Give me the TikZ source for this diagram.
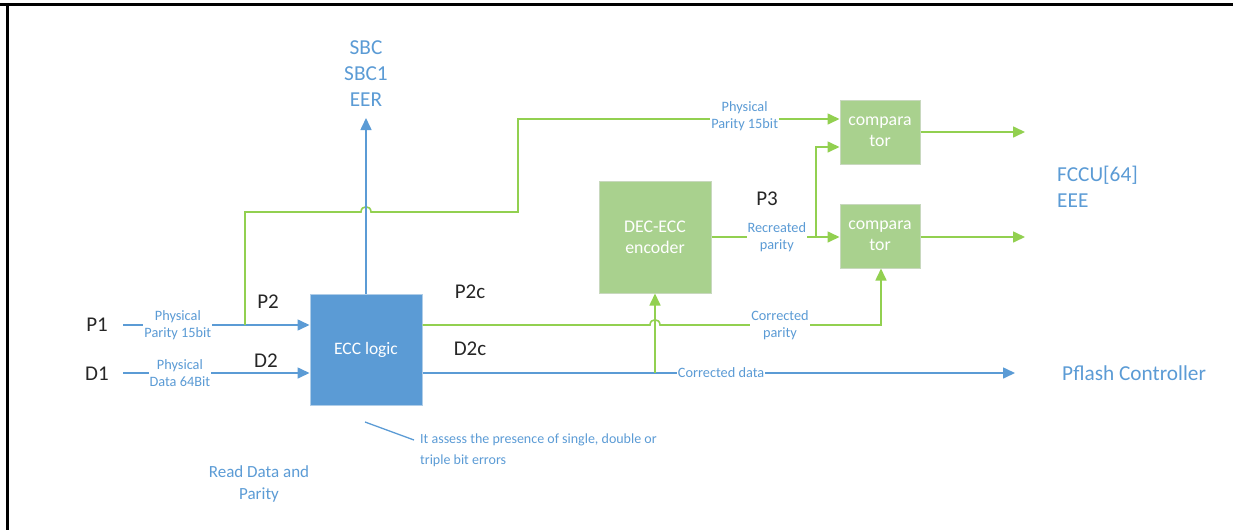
\documentclass[tikz,border=0pt]{standalone}
\usepackage{fontspec}
\setmainfont{Carlito}
\usetikzlibrary{arrows.meta}
\definecolor{eccblue}{RGB}{91,155,213}
\definecolor{wire}{RGB}{146,208,80}
\definecolor{boxgreen}{RGB}{169,209,142}
\definecolor{ink}{RGB}{38,38,38}
\definecolor{eccedge}{RGB}{175,205,232}
\definecolor{grnedge}{RGB}{200,216,190}

\begin{document}
\begin{tikzpicture}[x=1pt,y=-1pt,
  bwire/.style={draw=eccblue,line width=1.6pt},
  gwire/.style={draw=wire,line width=1.6pt},
  tip/.style={-{Triangle[length=12pt,width=11pt]}},
  eccbox/.style={fill=eccblue,draw=eccedge,line width=1pt,minimum width=112pt,
    minimum height=111pt,text=white,font=\fontsize{17.5}{21}\selectfont,align=center,inner sep=0pt},
  encbox/.style={fill=boxgreen,draw=grnedge,line width=1pt,minimum width=112pt,
    minimum height=112pt,text=white,font=\fontsize{17.8}{21}\selectfont,align=center,inner sep=0pt},
  cmpbox/.style={encbox,minimum width=80pt,minimum height=64pt},
  tag/.style={text=ink,font=\fontsize{21}{26}\selectfont,inner sep=0pt},
  bignote/.style={text=eccblue,font=\fontsize{21.3}{26}\selectfont,inner sep=0pt},
  midnote/.style={text=eccblue,font=\fontsize{17}{22}\selectfont,align=center,inner sep=0pt},
  wlabel/.style={text=eccblue,fill=white,font=\fontsize{14.3}{16.5}\selectfont,align=center,inner sep=1pt},
  smallnote/.style={text=eccblue,font=\fontsize{14}{21}\selectfont,align=left,inner sep=0pt},
]
\useasboundingbox (0,0) rectangle (1233,530);

% frame
\draw[line width=3pt] (0,4) -- (1233,4);
\draw[line width=3pt] (7,3) -- (7,530);

% blocks
\node[eccbox] (ecc) at (366,349.5) {ECC logic};
\node[encbox] (enc) at (655,237) {DEC-ECC\\encoder};
\node[cmpbox] (cmp1) at (880,132) {compara\\tor};
\node[cmpbox] (cmp2) at (880,236) {compara\\tor};

% signal names
\node[tag] (p1) at (97,325) {P1};
\node[tag] (d1) at (97,374) {D1};
\node[tag] (p2) at (268,302) {P2};
\node[tag] (d2) at (266,361) {D2};
\node[tag] (p2c) at (470,292) {P2c};
\node[tag] (d2c) at (470,349) {D2c};
\node[tag] (p3) at (767,199) {P3};

% destinations
\node[bignote,align=center] (sbc) at (366,74) {SBC\\SBC1\\EER};
\node[bignote,align=left,anchor=west] (fccu) at (1057,187) {FCCU[64]\\EEE};
\node[bignote,anchor=west] (pflash) at (1062,373) {Pflash Controller};
\node[midnote] (rdp) at (259,484) {Read Data and\\Parity};
\node[smallnote,anchor=west] (anno) at (420,450.5) {It assess the presence of single, double or\\triple bit errors};

% junction points
\coordinate (p1in) at (123,325);
\coordinate (d1in) at (123,373);
\coordinate (tapP) at (245,325);
\coordinate (tapD) at (655,373);
\coordinate (tapR) at (816,237);
\coordinate (sbcend) at (366,118);
\coordinate (pfend) at (1015,373);
\coordinate (o1) at (1025,132);
\coordinate (o2) at (1025,237);
\coordinate (ptr) at (365,422);
\coordinate (ptrend) at (414,440);

% inputs to the ECC logic
\draw[bwire,tip] (p1in) -- node[wlabel,pos=0.294] {Physical\\Parity 15bit} (p1in -| ecc.west);
\draw[bwire,tip] (d1in) -- node[wlabel,pos=0.305] {Physical\\Data 64Bit} (d1in -| ecc.west);

% physical parity bypass to the first comparator (hops over the status line)
\draw[gwire,tip] (tapP) -- (245,212) -- (361,212)
  .. controls (361,205) and (371,205) .. (371,212) -- (518,212) -- (518,119)
  -- node[wlabel,pos=0.705,yshift=3pt] {Physical\\Parity 15bit} (cmp1.west |- 0,119);

% status output
\draw[bwire,tip] (ecc.north) -- (sbcend);

% corrected parity to the second comparator
\draw[gwire,tip] (ecc.east |- 0,325) -- (650,325)
  .. controls (650,318) and (660,318) .. (660,325) -- (881,325) -- (cmp2.south -| 881,0);
\node[wlabel] (cplbl) at (780,325) {Corrected\\parity};

% corrected data
\draw[bwire,tip] (ecc.east |- 0,373) -- node[wlabel,pos=0.504,inner sep=0.5pt] {Corrected data} (pfend);

% re-encoding of the corrected data
\draw[gwire,tip] (tapD) -- (enc.south);

% recreated parity to both comparators
\draw[gwire,tip] (enc.east |- tapR) -- node[wlabel,pos=0.51] {Recreated\\parity} (cmp2.west |- tapR);
\draw[gwire,tip] (tapR) -- (816,147) -- (cmp1.west |- 0,147);

% comparator outputs
\draw[gwire,tip] (cmp1.east |- o1) -- (o1);
\draw[gwire,tip] (cmp2.east |- o2) -- (o2);

% pointer from the annotation towards the ECC logic
\draw[draw=eccblue,line width=1.3pt] (ptr) -- (ptrend);
\end{tikzpicture}
\end{document}
